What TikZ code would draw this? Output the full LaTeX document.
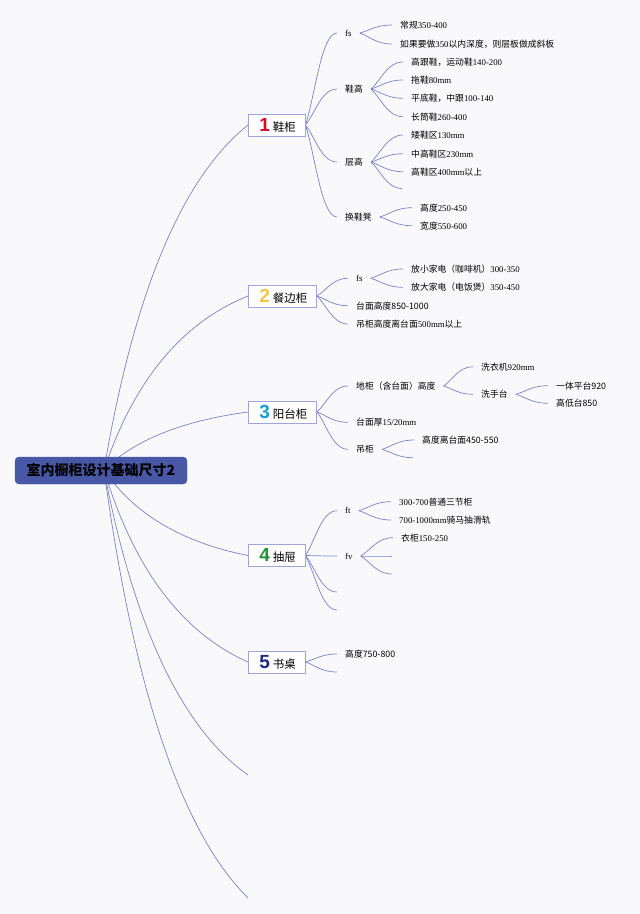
\documentclass[tikz,border=0pt]{standalone}
\usepackage{fontspec}
\setmainfont{Liberation Serif}
\newfontfamily\zh{Noto Sans CJK SC}
\newfontfamily\numfont{Liberation Sans}
\usetikzlibrary{calc}
\pgfdeclarelayer{bg}
\pgfsetlayers{bg,main}
\definecolor{bgc}{RGB}{249,249,251}
\definecolor{linec}{RGB}{124,130,196}
\definecolor{boxc}{RGB}{160,164,216}
\definecolor{rootc}{RGB}{72,88,166}
\definecolor{nonec}{RGB}{208,16,42}
\definecolor{ntwoc}{RGB}{242,200,70}
\definecolor{nthreec}{RGB}{26,154,214}
\definecolor{nfourc}{RGB}{30,150,55}
\definecolor{nfivec}{RGB}{27,42,128}
\newcommand\bignum[2]{\hspace{2pt}\textcolor{#1}{\numfont\bfseries\fontsize{19}{19}\selectfont #2}\hspace{3pt}}
\begin{document}
\begin{tikzpicture}[x=1pt,y=-1pt,
  conn/.style={draw=linec,line width=0.7pt},
  rootlink/.style={to path={let \p1=(\tikztostart),\p2=(\tikztotarget),\p3=($(\p2)-(\p1)$) in .. controls ($(\p1)+({0.2067*(\x3)},{0.5133*(\y3)})$) and ($(\p2)+({-0.46*(\x3)},{-0.1533*(\y3)})$) .. (\p2)}},
  sublink/.style={to path={let \p1=(\tikztostart),\p2=(\tikztotarget),\p3=($(\p2)-(\p1)$) in .. controls ($(\p1)+({0.3*(\x3)},{0.3*(\y3)})$) and ($(\p2)+({-0.5*(\x3)},0pt)$) .. (\p2)}},
  boxnode/.style={draw=boxc,fill=white,line width=0.8pt,minimum height=22pt,inner xsep=9pt,inner ysep=0pt,anchor=west,font=\fontsize{11.5}{12}\selectfont},
  lbl/.style={inner xsep=8pt,inner ysep=1pt,anchor=west,font=\fontsize{8.8}{10}\selectfont},
  rootbox/.style={fill=rootc,draw=rootc,text=black,rounded corners=4pt,minimum width=172pt,minimum height=27pt,inner sep=0pt,font=\zh\bfseries\fontsize{14}{14}\selectfont}
]
\useasboundingbox (0,0) rectangle (640,914);

% root
\coordinate (o) at (104,470);
\node[rootbox] (root) at (101,470.5) {室内橱柜设计基础尺寸2};

% level 1
\node[boxnode] (b1) at (248,125) {\bignum{nonec}{1}{\zh 鞋柜}};
\node[boxnode] (b2) at (248,296) {\bignum{ntwoc}{2}{\zh 餐边柜}};
\node[boxnode] (b3) at (248,412) {\bignum{nthreec}{3}{\zh 阳台柜}};
\node[boxnode] (b4) at (248,555.5) {\bignum{nfourc}{4}{\zh 抽屉}};
\node[boxnode] (b5) at (248,662) {\bignum{nfivec}{5}{\zh 书桌}};
\coordinate (e6) at (248,775);
\coordinate (e7) at (248,898);

% box 1
\node[lbl] (n11) at (337,33) {fs};
\node[lbl] (n111) at (392,25) {{\zh 常规}350-400};
\node[lbl] (n112) at (392,44) {{\zh 如果要做}350{\zh 以内深度，则层板做成斜板}};
\node[lbl] (n12) at (337,89) {\zh 鞋高};
\node[lbl] (n121) at (403,62) {{\zh 高跟鞋，运动鞋}140-200};
\node[lbl] (n122) at (403,80) {{\zh 拖鞋}80mm};
\node[lbl] (n123) at (403,98.3) {{\zh 平底鞋，中跟}100-140};
\node[lbl] (n124) at (403,116.7) {{\zh 长筒鞋}260-400};
\node[lbl] (n13) at (337,162) {\zh 层高};
\node[lbl] (n131) at (403,135) {{\zh 矮鞋区}130mm};
\node[lbl] (n132) at (403,153.7) {{\zh 中高鞋区}230mm};
\node[lbl] (n133) at (403,171.7) {{\zh 高鞋区}400mm{\zh 以上}};
\coordinate (e134) at (402,188.5);
\node[lbl] (n14) at (337,217) {\zh 换鞋凳};
\node[lbl] (n141) at (412,207.7) {{\zh 高度}250-450};
\node[lbl] (n142) at (412,225.7) {{\zh 宽度}550-600};

% box 2
\node[lbl] (n21) at (348,278.3) {fs};
\node[lbl] (n211) at (403,269) {{\zh 放小家电（咖啡机）}300-350};
\node[lbl] (n212) at (403,287.3) {{\zh 放大家电（电饭煲）}350-450};
\node[lbl] (n22) at (348,305.7) {\zh 台面高度850-1000};
\node[lbl] (n23) at (348,324) {{\zh 吊柜高度离台面}500mm{\zh 以上}};

% box 3
\node[lbl] (n31) at (348,386) {\zh 地柜（含台面）高度};
\node[lbl] (n311) at (473,366.7) {{\zh 洗衣机}920mm};
\node[lbl] (n312) at (473,394.3) {\zh 洗手台};
\node[lbl] (n3121) at (548,385.7) {\zh 一体平台920};
\node[lbl] (n3122) at (548,403.3) {\zh 高低台850};
\node[lbl] (n32) at (348,422.3) {{\zh 台面厚}15/20mm};
\node[lbl] (n33) at (348,449.3) {\zh 吊柜};
\node[lbl] (n331) at (414,440) {\zh 高度离台面450-550};
\coordinate (e332) at (413,457.7);

% box 4
\node[lbl] (n41) at (337,510.7) {ft};
\node[lbl] (n411) at (391,501.7) {300-700{\zh 普通三节柜}};
\node[lbl] (n412) at (391,520) {700-1000mm{\zh 骑马抽滑轨}};
\node[lbl] (n42) at (337,556) {fv};
\node[lbl] (n421) at (393,537.7) {{\zh 衣柜}150-250};
\coordinate (e422) at (392,556);
\coordinate (e423) at (392,574);
\coordinate (e43) at (337,592);
\coordinate (e44) at (337,610);

% box 5
\node[lbl] (n51) at (337,654) {\zh 高度750-800};
\coordinate (e52) at (337,672);

\begin{pgfonlayer}{bg}
\fill[bgc] (0,0) rectangle (640,914);
\foreach \t in {b1.west,b2.west,b3.west,b4.west,b5.west,e6,e7}
  \draw[conn] (o) to[rootlink] (\t);
% box 1
\foreach \t in {n11,n12,n13,n14} \draw[conn] (b1.east) to[sublink] (\t.west);
\foreach \t in {n111,n112} \draw[conn] (n11.east) to[sublink] (\t.west);
\foreach \t in {n121,n122,n123,n124} \draw[conn] (n12.east) to[sublink] (\t.west);
\foreach \t in {n131.west,n132.west,n133.west,e134} \draw[conn] (n13.east) to[sublink] (\t);
\foreach \t in {n141,n142} \draw[conn] (n14.east) to[sublink] (\t.west);
% box 2
\foreach \t in {n21,n22,n23} \draw[conn] (b2.east) to[sublink] (\t.west);
\foreach \t in {n211,n212} \draw[conn] (n21.east) to[sublink] (\t.west);
% box 3
\foreach \t in {n31,n32,n33} \draw[conn] (b3.east) to[sublink] (\t.west);
\foreach \t in {n311,n312} \draw[conn] (n31.east) to[sublink] (\t.west);
\foreach \t in {n3121,n3122} \draw[conn] (n312.east) to[sublink] (\t.west);
\foreach \t in {n331.west,e332} \draw[conn] (n33.east) to[sublink] (\t);
% box 4
\foreach \t in {n41.west,n42.west,e43,e44} \draw[conn] (b4.east) to[sublink] (\t);
\foreach \t in {n411,n412} \draw[conn] (n41.east) to[sublink] (\t.west);
\foreach \t in {n421.west,e422,e423} \draw[conn] (n42.east) to[sublink] (\t);
% box 5
\foreach \t in {n51.west,e52} \draw[conn] (b5.east) to[sublink] (\t);
\end{pgfonlayer}
\end{tikzpicture}
\end{document}
